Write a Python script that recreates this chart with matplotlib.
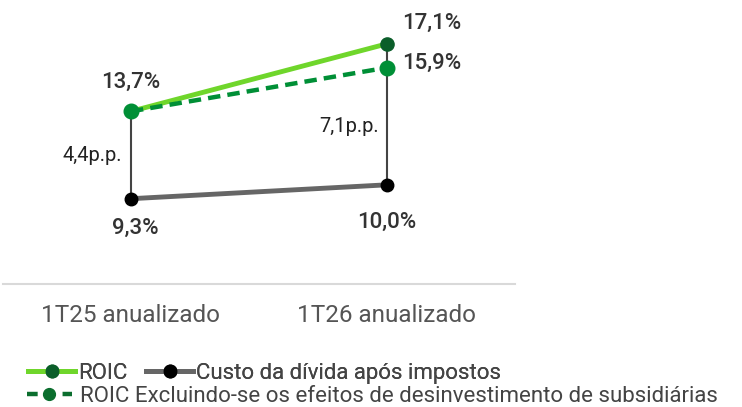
import numpy as np
import matplotlib
matplotlib.use('Agg')
import matplotlib.pyplot as plt
from matplotlib.lines import Line2D

categories = ['1T25 anualizado', '1T26 anualizado']
roic = [13.7, 17.1]
roic_excl = [13.7, 15.9]
custo = [9.3, 10.0]
roic_labels = ['13,7%', '17,1%']
excl_labels = ['13,7%', '15,9%']
custo_labels = ['9,3%', '10,0%']
spread_labels = ['4,4p.p.', '7,1p.p.']

plt.rcParams['font.family'] = ['Roboto', 'DejaVu Sans']

fig = plt.figure(figsize=(7.42, 4.07), dpi=100)
ax = fig.add_axes([0.004, 0.302, 0.69, 0.683])
x = np.arange(len(categories))

light_green = '#6fd62b'
dark_green = '#008f36'
gray_line = '#666666'

# connectors between ROIC and custo
for i in x:
    ax.plot([i, i], [custo[i], roic[i]], color='#444444', lw=1.5, zorder=1)

ax.plot(x, roic, color=light_green, lw=3.5, zorder=2)
ax.plot(x, custo, color=gray_line, lw=3.5, zorder=2)
ax.plot(x, roic_excl, color=dark_green, lw=3.2, ls=(0, (2.8, 1.6)), zorder=3)
ax.plot(x[1:], roic[1:], 'o', color='#0b5e2a', ms=9.5, zorder=4)
ax.plot(x, roic_excl, 'o', color=dark_green, ms=10.5, zorder=4)
ax.plot(x, custo, 'o', color='black', ms=9, zorder=4)

txt = '#333333'
vk = dict(textcoords='offset points', ha='center', va='center', fontsize=16,
          fontweight='medium', color=txt)
ax.annotate(roic_labels[0], (x[0], roic[0]), xytext=(0, 20.5), **vk)
ax.annotate(roic_labels[1], (x[1], roic[1]), xytext=(32, 15), **vk)
ax.annotate(excl_labels[1], (x[1], roic_excl[1]), xytext=(32, 3), **vk)
ax.annotate(custo_labels[0], (x[0], custo[0]), xytext=(3, -21.5), **vk)
ax.annotate(custo_labels[1], (x[1], custo[1]), xytext=(0, -27), **vk)
pk = dict(textcoords='offset points', ha='center', va='center', fontsize=14.5, color='#222222')
ax.annotate(spread_labels[0], (x[0], custo[0]), xytext=(-28, 31), **pk)
ax.annotate(spread_labels[1], (x[1], custo[1]), xytext=(-27.5, 42), **pk)

ax.set_xlim(-0.5, 1.5)
ax.set_ylim(5, 19)
ax.set_xticks(x)
ax.set_xticklabels(categories, fontsize=17.5, color='#555555')
ax.tick_params(axis='x', length=0, pad=14)
ax.set_yticks([])
for s in ['top', 'right', 'left']:
    ax.spines[s].set_visible(False)
ax.spines['bottom'].set_color('#d9d9d9')
ax.spines['bottom'].set_linewidth(1.5)

h1 = Line2D([], [], color=light_green, lw=3.5, marker='o', ms=9, mfc='#0b5e2a', mec='#0b5e2a')
h2 = Line2D([], [], color=gray_line, lw=3.5, marker='o', ms=9, mfc='black', mec='black')
h3 = Line2D([], [], color='#0b6e2e', lw=3.2, ls=(0, (2.4, 5.6)), marker='o', ms=8.5,
            mfc='#0b6e2e', mec='#0b6e2e')

leg1 = fig.legend([h1, h2], ['ROIC', 'Custo da dívida após impostos'], loc='center left',
                  bbox_to_anchor=(0.038, 0.082), ncol=2, frameon=False, fontsize=16,
                  borderpad=0, borderaxespad=0,
                  handlelength=2.1, handletextpad=0.15, columnspacing=0.85, labelcolor='#444444')
fig.add_artist(leg1)
fig.legend([h3], ['ROIC Excluindo-se os efeitos de desinvestimento de subsidiárias'], loc='center left',
           bbox_to_anchor=(0.036, 0.027), frameon=False, fontsize=16,
           borderpad=0, borderaxespad=0,
           handlelength=2.05, handletextpad=0.36, labelcolor='#444444')

fig.savefig('out.png', dpi=100)
